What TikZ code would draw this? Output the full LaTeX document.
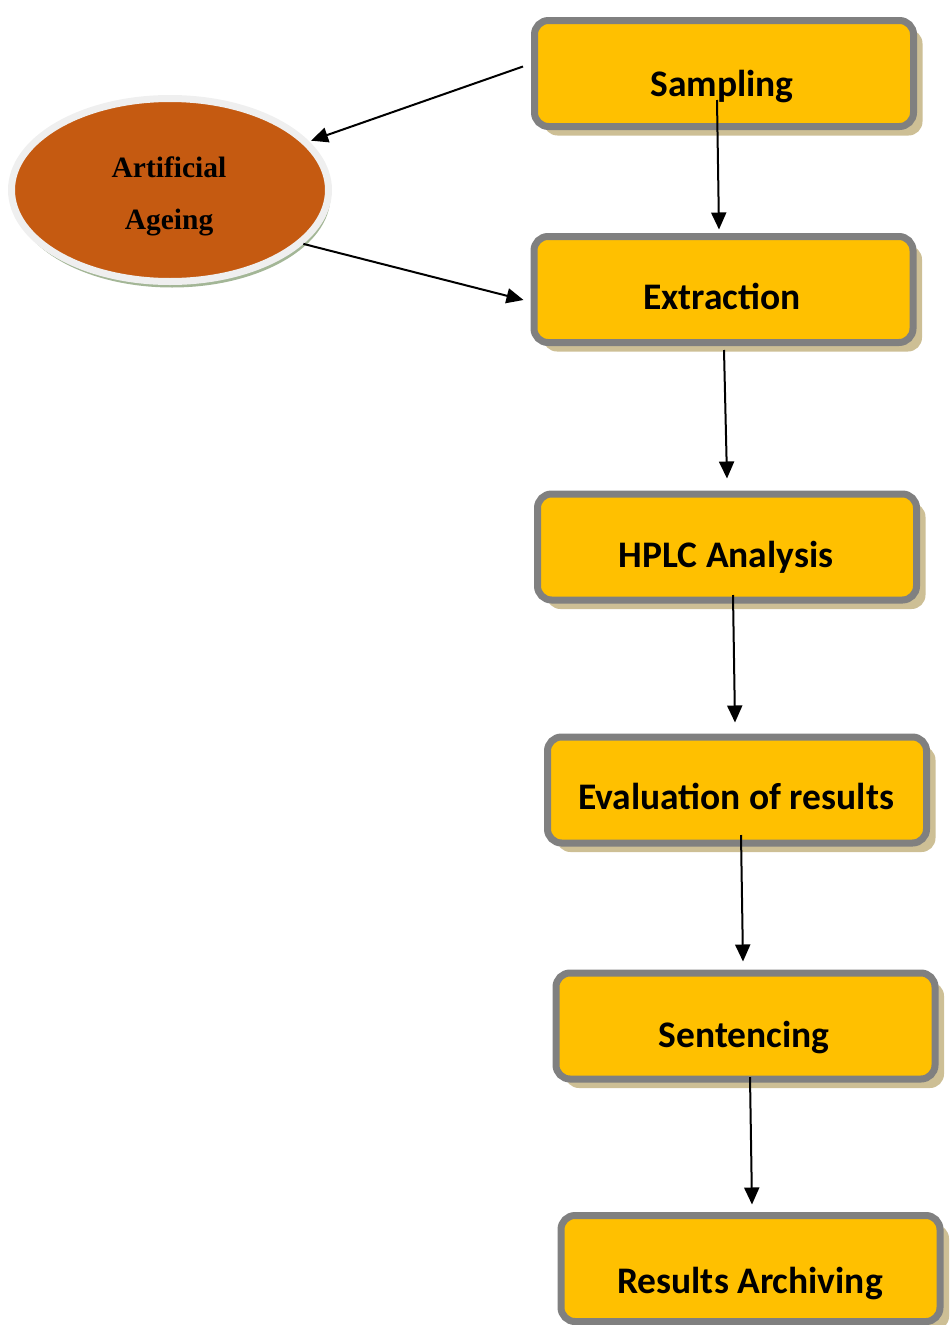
\documentclass[tikz,border=0pt]{standalone}
\usepackage{fontspec}
\newfontfamily\stepfont{Carlito}
\newfontfamily\ageingfont{Liberation Serif}
\usepackage{xcolor}
\definecolor{StepFill}{HTML}{FFC000}
\definecolor{StepBorder}{HTML}{808080}
\definecolor{StepShadow}{HTML}{CDBF95}
\definecolor{AgeingFill}{HTML}{C55A11}
\definecolor{AgeingRing}{HTML}{EFEFEF}
\definecolor{AgeingShadow}{HTML}{A3B696}
\usetikzlibrary{shapes.geometric, shadows, arrows.meta}

\tikzset{
  stepbox/.style={draw=StepBorder, line width=7pt, fill=StepFill,
    rounded corners=14pt, minimum width=379pt, minimum height=106pt, inner sep=0pt,
    drop shadow={shadow xshift=9pt, shadow yshift=-9pt, fill=StepShadow, opacity=1}},
  steplabel/.style={font=\stepfont\bfseries\fontsize{37.5}{42}\selectfont,
    anchor=base, inner sep=0pt},
  ageing/.style={ellipse, draw=AgeingRing, line width=7pt, fill=AgeingFill,
    minimum width=317pt, minimum height=183pt, inner sep=0pt,
    drop shadow={shadow xshift=2pt, shadow yshift=-6pt, fill=AgeingShadow, opacity=1}},
  agelabel/.style={align=center, inner sep=0pt,
    font=\ageingfont\bfseries\fontsize{29.5}{52}\selectfont},
  flow/.style={-{Triangle[length=17pt,width=15pt]}, line width=2pt},
}

\begin{document}
\begin{tikzpicture}[x=1pt, y=-1pt]
\useasboundingbox (0,0) rectangle (950,1325);

\node[stepbox] (samp) at (724,73.5) {};
\node[stepbox] (extr) at (723.5,289.5) {};
\node[stepbox] (hplc) at (727,547) {};
\node[stepbox] (eval) at (737,790) {};
\node[stepbox] (sent) at (745.5,1026) {};
\node[stepbox] (arch) at (750.5,1268.5) {};

\node[steplabel] (samplabel) at ([shift={(-2,22.5)}]samp.center) {Sampling};
\node[steplabel] (extrlabel) at ([shift={(-1.5,19.5)}]extr.center) {Extraction};
\node[steplabel] (hplclabel) at ([shift={(-1,20)}]hplc.center) {HPLC Analysis};
\node[steplabel] (evallabel) at ([shift={(-1,19)}]eval.center) {Evaluation of results};
\node[steplabel] (sentlabel) at ([shift={(-1.5,21)}]sent.center) {Sentencing};
\node[steplabel] (archlabel) at ([shift={(-0.5,24.5)}]arch.center) {Results Archiving};

\node[ageing] (age) at (170,190) {};
\node[agelabel] (agetext) at ([shift={(-1,6)}]age.center) {Artificial\\Ageing};

% Flechas al final, para que queden encima de los rellenos.
\draw[flow, shorten >=2pt] ([shift={(-8,-7)}]samp.west) -- (age);
\draw[flow] (age.-22) -- ([shift={(-7,10.5)}]extr.west);

\draw[flow] ([shift={(-7,26.5)}]samp.center) -- ([shift={(-4.5,-3.5)}]extr.north);
\draw[flow] ([shift={(0.5,60.5)}]extr.center) -- ([shift={(0,-12)}]hplc.north);
\draw[flow] ([shift={(6,48)}]hplc.center) -- ([shift={(-2,-11)}]eval.north);
\draw[flow] ([shift={(4,45)}]eval.center) -- ([shift={(-2.5,-8)}]sent.north);
\draw[flow] ([shift={(4.5,51)}]sent.center) -- ([shift={(1.5,-7.5)}]arch.north);

\end{tikzpicture}
\end{document}
